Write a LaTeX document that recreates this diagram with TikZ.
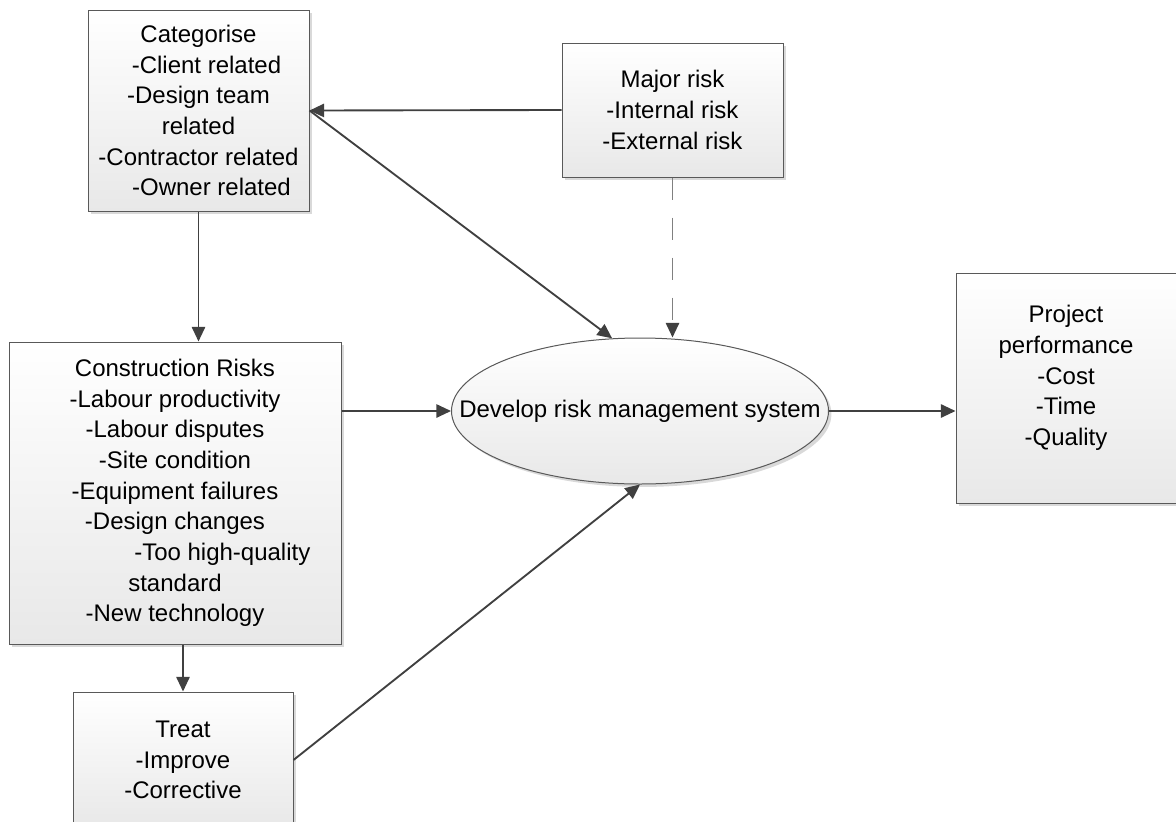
\documentclass[tikz,border=0pt]{standalone}
\usepackage{fontspec}
\setmainfont{Liberation Sans}
\usetikzlibrary{arrows.meta, shapes.geometric, shadows}

\begin{document}
\begin{tikzpicture}[
    x=0.75pt, y=-0.75pt,
    every node/.style={font=\fontsize{18}{23}\selectfont},
    risk box/.style={rectangle, draw=black!65, line width=0.75pt, top color=white, bottom color=black!9,
        drop shadow={shadow xshift=2.2pt, shadow yshift=-2.2pt, fill=black!15, opacity=1},
        align=center, inner sep=0pt},
    risk ellipse/.style={risk box, ellipse},
    flow arrow/.style={-{Triangle[length=11pt, width=10pt]}, draw=black!75, line width=1.4pt},
    dashed arrow/.style={-{Triangle[length=11pt, width=10pt, color=black!75]}, draw=black!50,
        line width=1.4pt, dash pattern=on 17pt off 13pt}
]
    % Page frame
    \useasboundingbox (0,0) rectangle (1176,821);
    \clip (0,0) rectangle (1176,821);

    % Boxes
    \node[risk box, minimum width=165.75pt, minimum height=150.75pt] (cat) at (198.5,110.5)
        {Categorise\\ \hspace*{12pt}-Client related\\ -Design team\\ related\\ -Contractor related\\ \hspace*{19.5pt}-Owner related};
    \node[risk box, minimum width=165.75pt, minimum height=100.5pt] (major) at (672.5,110)
        {Major risk\\ -Internal risk\\ -External risk};
    \node[risk box, minimum width=249pt, minimum height=226.5pt] (cr) at (175,493)
        {Construction Risks\\ -Labour productivity\\ -Labour disputes\\ -Site condition\\ -Equipment failures\\ -Design changes\\ \hspace*{71pt}-Too high-quality\\ standard\\ -New technology};
    \node[risk box, minimum width=165pt, minimum height=102pt] (treat) at (183,760)
        {Treat\\ -Improve\\ -Corrective};
    \node[risk box, minimum width=165pt, minimum height=172.5pt,
        label={[align=center, yshift=7.5pt]center:{Project\\ performance\\ -Cost\\ -Time\\ -Quality}}] (perf) at (1066,388) {};

    % Centre ellipse
    \node[risk ellipse, minimum width=282.75pt, minimum height=109.5pt,
        label={center:Develop risk management system}] (dev) at (640,411) {};

    % Arrows
    \draw[flow arrow] (major.west) -- (cat.east);
    \draw[flow arrow] (cat.east) -- (dev.111);
    \draw[dashed arrow] (major.south) -- (major.south |- dev.north);
    \draw[flow arrow] (cat.south) -- (cat.south |- cr.north);
    \draw[flow arrow] (cr.east |- dev.west) -- (dev.west);
    \draw[flow arrow] (dev.east) -- (dev.east -| perf.west);
    \draw[flow arrow] (treat.north |- cr.south) -- (treat.north);
    \draw[flow arrow] (treat.east) -- (dev.south);

\end{tikzpicture}
\end{document}
